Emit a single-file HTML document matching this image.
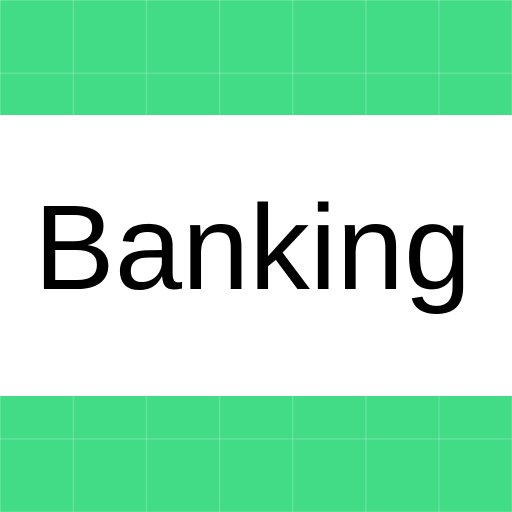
<!DOCTYPE html>
<html><head><style>
html,body{margin:0;padding:0;}
body{width:512px;height:512px;position:relative;overflow:hidden;background:#fff;}
.g{position:absolute;left:0;width:512px;background-color:#41dc85;
background-image:linear-gradient(to right, rgba(255,255,255,0.18) 1.5px, transparent 1.5px),linear-gradient(to bottom, rgba(255,255,255,0.18) 1.5px, transparent 1.5px);
background-size:73.14px 73.14px;background-position:-0.5px -0.5px;}
.t{position:absolute;left:34px;top:187px;font-family:"Liberation Sans",Arial,sans-serif;font-size:121px;color:#000;line-height:1;white-space:nowrap;}
</style></head><body>
<div class="g" style="top:0;height:115px;background-position:-0.5px -0.5px;"></div>
<div class="g" style="top:396px;height:116px;background-position:-0.5px -396.5px;"></div>
<div class="t">Banking</div>
</body></html>
